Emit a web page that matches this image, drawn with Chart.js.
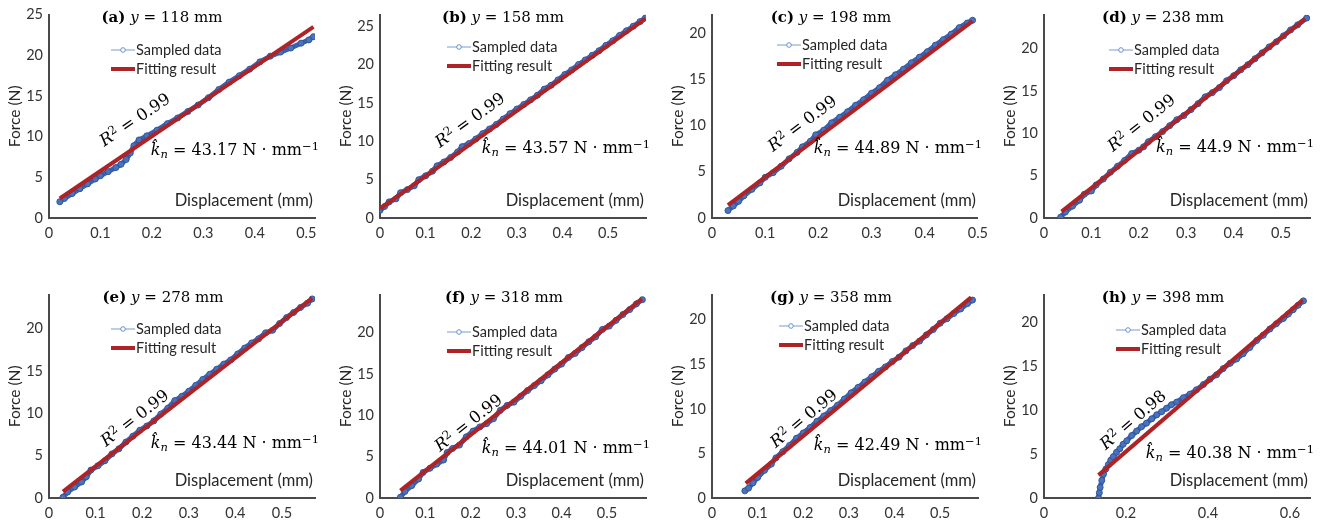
<!DOCTYPE html>
<html>
<head>
<meta charset="utf-8">
<script src="https://cdn.jsdelivr.net/npm/chart.js@4.4.1/dist/chart.umd.min.js"></script>
<style>
  body { margin: 0; background: #fff; width: 1328px; height: 527px; overflow: hidden; position: relative; }
  .panel { position: absolute; width: 332px; height: 262px; }
  .panel canvas { position: absolute; left: 0; top: 0; }
  .title { position: absolute; font-family: "DejaVu Serif", serif; font-size: 15px; line-height: 20px; color: #000; white-space: nowrap; transform: translateX(-50%); }
  .legend { position: absolute; font-family: Lato, sans-serif; font-size: 14.5px; color: #262626; white-space: nowrap; }
  .legend div { height: 19px; line-height: 19px; display: flex; align-items: center; }
  .legend svg { margin-right: 1px; }
  .math { position: absolute; font-family: "DejaVu Serif", serif; font-size: 16px; line-height: 20px; color: #000; white-space: nowrap; }
  .math sup { font-size: 0.72em; vertical-align: 0.45em; line-height: 0; }
  .math sub { font-size: 0.72em; vertical-align: -0.25em; line-height: 0; }
  .r2 { transform-origin: 0 100%; font-size: 16.5px; }
  .xlab { position: absolute; font-family: Lato, sans-serif; font-size: 16.5px; line-height: 20px; color: #262626; white-space: nowrap; transform: translateX(-100%); }
</style>
</head>
<body>
<script>
// Panel info
const panelLabels = ['a', 'b', 'c', 'd', 'e', 'f', 'g', 'h'];
const positionsMm = [118, 158, 198, 238, 278, 318, 358, 398];
const kValues = ['43.17', '43.57', '44.89', '44.9', '43.44', '44.01', '42.49', '40.38'];
const r2Values = ['0.99', '0.99', '0.99', '0.99', '0.99', '0.99', '0.99', '0.98'];
const xMax = [0.517, 0.583, 0.5, 0.561, 0.571, 0.586, 0.583, 0.649];
const yMax = [25, 26.5, 22, 24, 24, 24.6, 22.8, 23.1];
const xStep = [0.1, 0.1, 0.1, 0.1, 0.1, 0.1, 0.1, 0.2];

// Sampled data (displacement in mm, force in N)
const dispA = [0.021, 0.03, 0.045, 0.06, 0.075, 0.09, 0.1, 0.115, 0.13, 0.14, 0.15, 0.158, 0.165, 0.175, 0.19, 0.21, 0.23, 0.25, 0.27, 0.29, 0.31, 0.33, 0.35, 0.37, 0.39, 0.41, 0.43, 0.45, 0.47, 0.49, 0.505, 0.514];
const forceA = [2.0, 2.4, 3.0, 3.6, 4.2, 4.8, 5.2, 5.7, 6.2, 6.6, 7.2, 8.0, 8.9, 9.6, 10.1, 10.8, 11.6, 12.3, 13.1, 13.9, 14.8, 15.8, 16.7, 17.5, 18.3, 19.2, 19.9, 20.4, 20.9, 21.5, 21.9, 22.3];

const dispB = [0.0, 0.01, 0.02, 0.035, 0.045, 0.06, 0.075, 0.085, 0.1, 0.115, 0.125, 0.14, 0.155, 0.17, 0.18, 0.195, 0.21, 0.225, 0.24, 0.255, 0.27, 0.285, 0.3, 0.315, 0.33, 0.345, 0.36, 0.375, 0.39, 0.405, 0.42, 0.435, 0.45, 0.465, 0.48, 0.495, 0.51, 0.525, 0.54, 0.555, 0.57, 0.582];
const forceB = [1.0, 1.5, 2.1, 2.5, 3.3, 3.7, 4.2, 5.0, 5.5, 6.1, 6.8, 7.3, 7.9, 8.6, 9.3, 9.7, 10.3, 11.0, 11.6, 12.2, 12.9, 13.6, 14.2, 14.8, 15.4, 16.0, 16.8, 17.3, 18.0, 18.7, 19.3, 20.0, 20.6, 21.2, 21.8, 22.5, 23.1, 23.8, 24.4, 25.0, 25.6, 26.1];

const dispC = [0.03, 0.04, 0.05, 0.06, 0.075, 0.09, 0.1, 0.115, 0.13, 0.145, 0.16, 0.17, 0.185, 0.195, 0.21, 0.225, 0.24, 0.255, 0.27, 0.285, 0.3, 0.315, 0.33, 0.345, 0.36, 0.375, 0.39, 0.405, 0.42, 0.435, 0.45, 0.465, 0.48, 0.49];
const forceC = [0.8, 1.3, 1.8, 2.4, 3.1, 3.8, 4.4, 4.9, 5.6, 6.4, 7.1, 7.7, 8.3, 9.0, 9.5, 10.3, 10.9, 11.5, 12.2, 12.8, 13.5, 14.1, 14.9, 15.5, 16.1, 16.8, 17.4, 18.0, 18.7, 19.3, 19.9, 20.6, 21.1, 21.4];

const dispD = [0.035, 0.045, 0.06, 0.075, 0.085, 0.1, 0.11, 0.125, 0.14, 0.155, 0.17, 0.185, 0.2, 0.21, 0.22, 0.235, 0.25, 0.265, 0.28, 0.295, 0.31, 0.325, 0.34, 0.355, 0.37, 0.385, 0.4, 0.415, 0.43, 0.445, 0.46, 0.475, 0.49, 0.505, 0.52, 0.535, 0.554];
const forceD = [0.1, 0.7, 1.4, 2.1, 2.8, 3.2, 3.9, 4.6, 5.4, 6.1, 6.8, 7.6, 8.0, 8.4, 9.0, 9.6, 10.2, 10.9, 11.6, 12.1, 12.8, 13.5, 14.3, 14.8, 15.4, 16.2, 16.8, 17.5, 18.1, 18.8, 19.5, 20.2, 20.8, 21.5, 22.2, 22.8, 23.6];

const dispE = [0.03, 0.04, 0.055, 0.07, 0.08, 0.09, 0.105, 0.12, 0.135, 0.15, 0.165, 0.18, 0.195, 0.21, 0.225, 0.24, 0.255, 0.27, 0.285, 0.3, 0.315, 0.33, 0.345, 0.36, 0.375, 0.39, 0.405, 0.42, 0.435, 0.45, 0.465, 0.48, 0.495, 0.51, 0.525, 0.54, 0.555, 0.565];
const forceE = [0.1, 0.7, 1.3, 1.9, 2.5, 3.3, 3.8, 4.4, 5.2, 5.8, 6.6, 7.3, 8.0, 8.5, 9.1, 9.9, 10.6, 11.5, 12.0, 12.6, 13.3, 14.0, 14.6, 15.2, 15.8, 16.3, 17.0, 17.7, 18.3, 18.8, 19.5, 19.8, 20.6, 21.3, 21.9, 22.5, 23.0, 23.5];

const dispF = [0.045, 0.055, 0.07, 0.085, 0.095, 0.11, 0.125, 0.14, 0.148, 0.16, 0.175, 0.19, 0.205, 0.22, 0.235, 0.25, 0.265, 0.28, 0.295, 0.31, 0.325, 0.34, 0.355, 0.37, 0.385, 0.4, 0.415, 0.43, 0.445, 0.46, 0.475, 0.49, 0.505, 0.52, 0.535, 0.55, 0.565, 0.578];
const forceF = [0.1, 0.8, 1.5, 2.3, 3.1, 3.6, 4.1, 4.6, 5.5, 6.0, 6.4, 7.4, 8.1, 8.6, 9.0, 9.6, 10.6, 11.2, 11.6, 12.3, 13.0, 13.6, 14.2, 14.9, 15.6, 16.2, 17.0, 17.5, 18.2, 18.9, 19.5, 20.4, 20.8, 21.5, 22.2, 22.8, 23.5, 24.0];

const dispG = [0.072, 0.08, 0.09, 0.1, 0.115, 0.13, 0.14, 0.155, 0.17, 0.185, 0.2, 0.215, 0.23, 0.245, 0.26, 0.275, 0.29, 0.305, 0.32, 0.335, 0.35, 0.365, 0.38, 0.395, 0.41, 0.425, 0.44, 0.455, 0.47, 0.485, 0.5, 0.515, 0.53, 0.545, 0.56, 0.571];
const forceG = [0.8, 1.1, 1.7, 2.3, 3.1, 3.8, 4.5, 5.2, 5.9, 6.7, 7.3, 7.9, 8.6, 9.2, 9.8, 10.4, 11.1, 11.8, 12.4, 13.0, 13.6, 14.2, 14.7, 15.3, 15.8, 16.5, 17.1, 17.6, 18.3, 18.9, 19.6, 20.1, 20.7, 21.2, 21.8, 22.2];

const dispH = [0.133, 0.135, 0.137, 0.141, 0.145, 0.151, 0.157, 0.163, 0.169, 0.177, 0.185, 0.193, 0.202, 0.214, 0.226, 0.238, 0.25, 0.263, 0.275, 0.287, 0.299, 0.311, 0.324, 0.34, 0.356, 0.372, 0.389, 0.405, 0.421, 0.437, 0.454, 0.47, 0.486, 0.502, 0.519, 0.535, 0.551, 0.567, 0.584, 0.596, 0.608, 0.62, 0.633];
const forceH = [0.0, 0.6, 1.2, 2.0, 2.7, 3.3, 3.8, 4.3, 4.7, 5.2, 5.6, 6.1, 6.5, 7.1, 7.6, 8.1, 8.5, 9.0, 9.45, 9.8, 10.2, 10.6, 10.9, 11.4, 11.8, 12.3, 12.9, 13.5, 14.0, 14.7, 15.3, 15.8, 16.4, 17.1, 17.9, 18.5, 19.2, 19.8, 20.4, 20.9, 21.4, 21.9, 22.4];

// Linear fit end points
const fitDispA = [0.021, 0.514], fitForceA = [2.4, 23.5];
const fitDispB = [0.0, 0.582], fitForceB = [1.2, 26.0];
const fitDispC = [0.03, 0.49], fitForceC = [1.4, 21.3];
const fitDispD = [0.037, 0.551], fitForceD = [0.76, 23.5];
const fitDispE = [0.03, 0.565], fitForceE = [0.76, 23.6];
const fitDispF = [0.045, 0.577], fitForceF = [0.9, 24.1];
const fitDispG = [0.074, 0.568], fitForceG = [1.64, 22.5];
const fitDispH = [0.133, 0.631], fitForceH = [2.6, 22.5];

const sampledDisp = [dispA, dispB, dispC, dispD, dispE, dispF, dispG, dispH];
const sampledForce = [forceA, forceB, forceC, forceD, forceE, forceF, forceG, forceH];
const fitDisp = [fitDispA, fitDispB, fitDispC, fitDispD, fitDispE, fitDispF, fitDispG, fitDispH];
const fitForce = [fitForceA, fitForceB, fitForceC, fitForceD, fitForceE, fitForceF, fitForceG, fitForceH];

// Layout (pixels inside each panel)
const panelLeft = [0, 331, 663, 995];
const panelTop = [0, 280];
const titleCenter = [162, 172, 168, 168, 163, 173, 168, 168];
const legendPos = [[111, 40], [116, 37], [114, 35], [114, 40], [111, 39], [116, 42], [116, 36], [121, 40]];
const r2Pos = [[101, 147], [106, 148], [107, 152], [115, 152], [103, 167], [106, 172], [110, 168], [108, 170]];
const kY = [150, 148, 148, 147, 163, 168, 165, 173];

const blue = '#3862B0';
const red = '#AE2326';

function keepSteps(step) {
  return (scale) => {
    scale.ticks = scale.ticks.filter(t => Math.abs(t.value / step - Math.round(t.value / step)) < 1e-6);
  };
}

function legendHtml() {
  return `
    <div><svg width="24" height="10"><line x1="0" y1="5" x2="24" y2="5" stroke="#8FA9DA" stroke-width="1.2"/><circle cx="12" cy="5" r="2.3" fill="#fff" stroke="#6C8ED0" stroke-width="1"/></svg>Sampled data</div>
    <div><svg width="24" height="10"><line x1="0" y1="5" x2="24" y2="5" stroke="${red}" stroke-width="4"/></svg>Fitting result</div>`;
}

function makePanel(i) {
  const panel = document.createElement('div');
  panel.className = 'panel';
  panel.style.left = panelLeft[i % 4] + 'px';
  panel.style.top = panelTop[Math.floor(i / 4)] + 'px';
  document.body.appendChild(panel);

  const canvas = document.createElement('canvas');
  canvas.width = 332;
  canvas.height = 262;
  panel.appendChild(canvas);

  const chart = new Chart(canvas, {
    type: 'scatter',
    data: {
      datasets: [
        {
          label: 'Fitting result',
          data: fitDisp[i].map((x, j) => ({ x, y: fitForce[i][j] })),
          showLine: true,
          borderColor: red,
          borderWidth: 4,
          pointRadius: 0
        },
        {
          label: 'Sampled data',
          data: sampledDisp[i].map((x, j) => ({ x, y: sampledForce[i][j] })),
          showLine: true,
          borderColor: blue,
          borderWidth: 5,
          pointRadius: 3,
          pointBorderWidth: 1,
          pointBorderColor: '#2F579E',
          pointBackgroundColor: '#4A72BD'
        }
      ]
    },
    options: {
      responsive: false,
      animation: false,
      layout: { padding: { top: 8, right: 17, left: 0, bottom: 0 } },
      plugins: { legend: { display: false }, tooltip: { enabled: false } },
      scales: {
        x: {
          type: 'linear',
          min: 0,
          max: xMax[i],
          afterBuildTicks: keepSteps(xStep[i]),
          afterFit: (s) => { s.height = 44; },
          grid: { display: false, drawTicks: false },
          border: { color: '#4a4a4a', width: 2 },
          ticks: { stepSize: xStep[i], includeBounds: false, padding: 7, maxRotation: 0, autoSkip: false, color: '#333', font: { family: 'Lato', size: 14.5 } }
        },
        y: {
          type: 'linear',
          min: 0,
          max: yMax[i],
          afterBuildTicks: keepSteps(5),
          afterFit: (s) => { s.width = 49; },
          grid: { display: false, drawTicks: false },
          border: { color: '#4a4a4a', width: 2 },
          ticks: { stepSize: 5, includeBounds: false, padding: 6, autoSkip: false, color: '#333', font: { family: 'Lato', size: 14.5 } },
          title: { display: true, text: 'Force (N)', color: '#262626', font: { family: 'Lato', size: 15.5 }, padding: { top: 6, bottom: 0 } }
        }
      }
    }
  });

  // title
  const title = document.createElement('div');
  title.className = 'title';
  title.style.left = titleCenter[i] + 'px';
  title.style.top = '7px';
  title.innerHTML = `<b>(${panelLabels[i]})</b> <i>y</i> = ${positionsMm[i]} mm`;
  panel.appendChild(title);

  // legend
  const legend = document.createElement('div');
  legend.className = 'legend';
  legend.style.left = legendPos[i][0] + 'px';
  legend.style.top = legendPos[i][1] + 'px';
  legend.innerHTML = legendHtml();
  panel.appendChild(legend);

  // R^2 along the fitted line
  const xs = chart.scales.x, ys = chart.scales.y;
  const dx = xs.getPixelForValue(fitDisp[i][1]) - xs.getPixelForValue(fitDisp[i][0]);
  const dy = ys.getPixelForValue(fitForce[i][1]) - ys.getPixelForValue(fitForce[i][0]);
  const angle = Math.atan2(dy, dx) * 180 / Math.PI;
  const r2 = document.createElement('div');
  r2.className = 'math r2';
  r2.style.left = (r2Pos[i][0] + 6) + 'px';
  r2.style.top = (r2Pos[i][1] - 16) + 'px';
  r2.style.transform = `rotate(${angle}deg)`;
  r2.innerHTML = `<i>R</i><sup>2</sup> = ${r2Values[i]}`;
  panel.appendChild(r2);

  // stiffness
  const k = document.createElement('div');
  k.className = 'math';
  k.style.right = (332 - 319) + 'px';
  k.style.top = (kY[i] - 10) + 'px';
  k.innerHTML = `<i>k&#770;</i><sub><i>n</i></sub> = ${kValues[i]} N · mm<sup>−1</sup>`;
  panel.appendChild(k);

  // x label inside axes
  const xl = document.createElement('div');
  xl.className = 'xlab';
  xl.style.left = '313px';
  xl.style.top = '190px';
  xl.textContent = 'Displacement (mm)';
  panel.appendChild(xl);
}

for (let i = 0; i < 8; i++) makePanel(i);
</script>
</body>
</html>
